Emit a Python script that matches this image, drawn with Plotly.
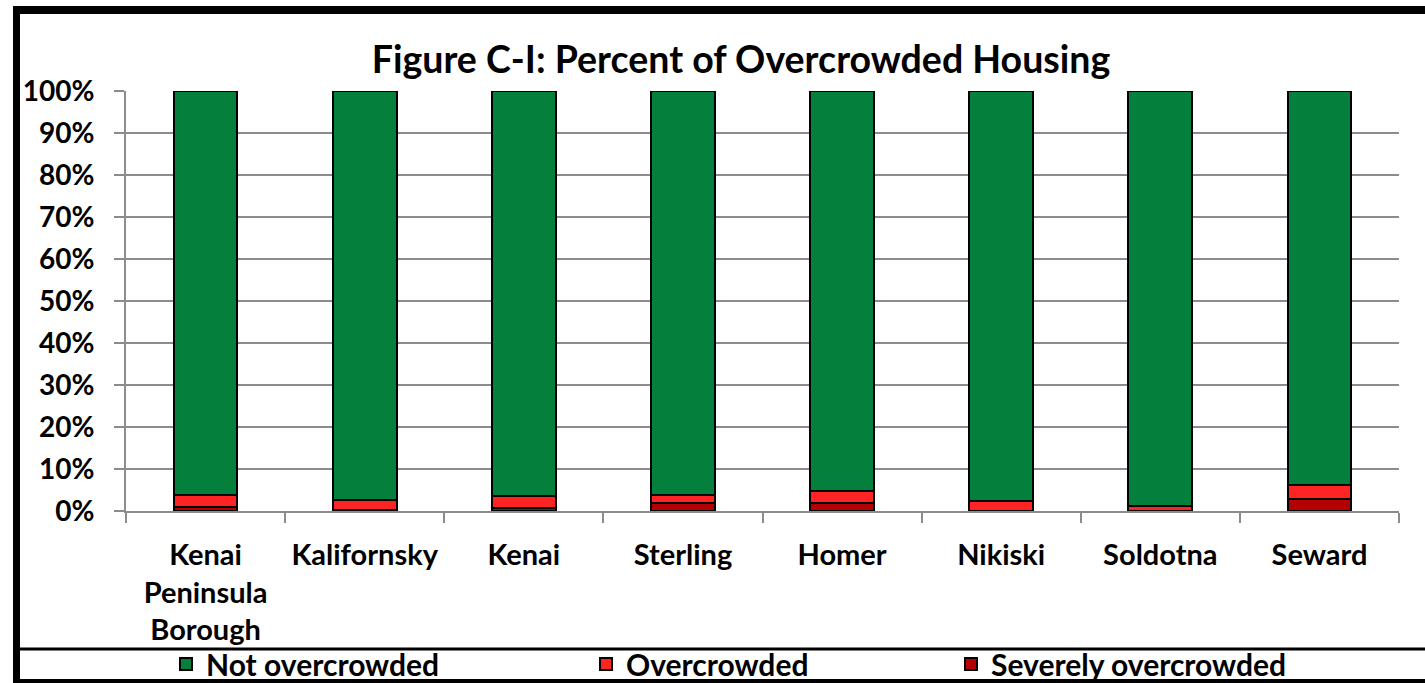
import plotly.graph_objects as go

categories = ["Kenai<br>Peninsula<br>Borough", "Kalifornsky", "Kenai", "Sterling",
              "Homer", "Nikiski", "Soldotna", "Seward"]
severely_overcrowded = [0.9, 0.3, 0.6, 2.0, 1.8, 0.1, 0.1, 2.8]
overcrowded = [2.8, 2.3, 2.9, 1.7, 3.0, 2.3, 1.0, 3.4]
not_overcrowded = [96.3, 97.4, 96.5, 96.3, 95.2, 97.6, 98.9, 93.8]
y_ticks = [0, 10, 20, 30, 40, 50, 60, 70, 80, 90, 100]
y_tick_labels = ["0%", "10%", "20%", "30%", "40%", "50%", "60%", "70%", "80%", "90%", "100%"]

W, H = 1425, 683
L, R, T, B = 126, 26, 91, 172
PW, PH = W - L - R, H - T - B


def px(x):
    return (x - L) / PW


def py(y):
    return (H - B - y) / PH


FONT = "Lato"
fig = go.Figure()
fig.add_trace(go.Bar(x=categories, y=severely_overcrowded, name="Severely overcrowded",
                     marker=dict(color="#B30000", line=dict(color="black", width=2)),
                     legend="legend4"))
fig.add_trace(go.Bar(x=categories, y=overcrowded, name="Overcrowded",
                     marker=dict(color="#FF2424", line=dict(color="black", width=2)),
                     legend="legend3"))
fig.add_trace(go.Bar(x=categories, y=not_overcrowded, name="Not overcrowded",
                     marker=dict(color="#05803C", line=dict(color="black", width=2)),
                     legend="legend2"))

legend_common = dict(orientation="h", yanchor="middle", y=py(664), xanchor="left",
                     font=dict(family=FONT, size=30, color="black", weight="bold"),
                     bgcolor="rgba(0,0,0,0)", itemwidth=30)

shapes = [
    dict(type="rect", xref="paper", yref="paper", x0=px(13), x1=px(20), y0=py(683), y1=py(6),
         fillcolor="black", line=dict(width=0)),
    dict(type="rect", xref="paper", yref="paper", x0=px(13), x1=px(1425), y0=py(14), y1=py(6),
         fillcolor="black", line=dict(width=0)),
    dict(type="rect", xref="paper", yref="paper", x0=px(13), x1=px(1425), y0=py(683), y1=py(679),
         fillcolor="black", line=dict(width=0)),
    dict(type="rect", xref="paper", yref="paper", x0=px(13), x1=px(1425), y0=py(650.5), y1=py(647.5),
         fillcolor="black", line=dict(width=0)),
]

fig.update_layout(
    width=W, height=H,
    margin=dict(l=L, r=R, t=T, b=B, autoexpand=False),
    barmode="stack",
    bargap=0.6,
    plot_bgcolor="white", paper_bgcolor="white",
    showlegend=True,
    title=dict(text="Figure C-I: Percent of Overcrowded Housing", x=741 / W, xanchor="center",
               y=1 - 60 / H, yanchor="middle",
               font=dict(family=FONT, size=37.5, color="black", weight="bold")),
    legend2=dict(**legend_common, x=px(166)),
    legend3=dict(**legend_common, x=px(586)),
    legend4=dict(**legend_common, x=px(951)),
    shapes=shapes,
)
fig.update_xaxes(
    tickson="boundaries", ticks="outside", ticklen=10, tickcolor="#8C8C8C", tickwidth=2,
    showline=True, linecolor="#8C8C8C", linewidth=2, showgrid=False,
    ticklabelstandoff=17,
    tickfont=dict(family=FONT, size=29, color="black", weight="bold"),
)
fig.update_yaxes(
    range=[0, 100], tickmode="array", tickvals=y_ticks, ticktext=y_tick_labels,
    ticks="outside", ticklen=10, tickcolor="#8C8C8C", tickwidth=2,
    showline=True, linecolor="#8C8C8C", linewidth=2,
    showgrid=True, gridcolor="#8C8C8C", gridwidth=2, zeroline=False,
    ticklabelstandoff=14,
    tickfont=dict(family=FONT, size=28, color="black", weight="bold"),
)

fig.write_html("out.html")
